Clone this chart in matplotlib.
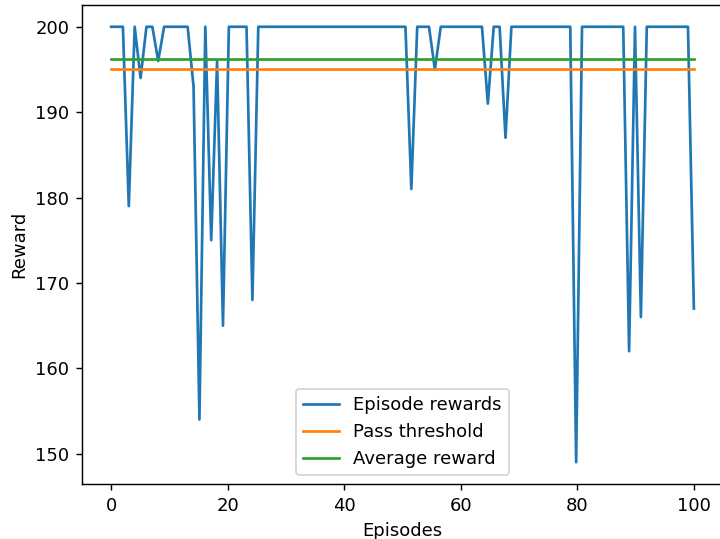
import numpy as np
import matplotlib
matplotlib.use("Agg")
import matplotlib.pyplot as plt

# rewards per episode
rewards = [200, 200, 200, 179, 200, 194, 200, 200, 196, 200,
           200, 200, 200, 200, 193, 154, 200, 175, 196, 165,
           200, 200, 200, 200, 168, 200, 200, 200, 200, 200,
           200, 200, 200, 200, 200, 200, 200, 200, 200, 200,
           200, 200, 200, 200, 200, 200, 200, 200, 200, 200,
           200, 181, 200, 200, 200, 195, 200, 200, 200, 200,
           200, 200, 200, 200, 191, 200, 200, 187, 200, 200,
           200, 200, 200, 200, 200, 200, 200, 200, 200, 149,
           200, 200, 200, 200, 200, 200, 200, 200, 162, 200,
           166, 200, 200, 200, 200, 200, 200, 200, 200, 167]
threshold = 195
episodes = np.linspace(0, 100, len(rewards))
avg = np.mean(rewards)

dpi = 129.5
fig = plt.figure(figsize=(720 / dpi, 539 / dpi), dpi=dpi)
ax = fig.add_axes([82 / 720, 55 / 539, 641 / 720, 479 / 539])

ax.plot(episodes, rewards, label='Episode rewards')
ax.plot(episodes, [threshold] * len(rewards), label='Pass threshold')
ax.plot(episodes, [avg] * len(rewards), label='Average reward')
ax.set_xlabel('Episodes')
ax.set_ylabel('Reward')
ax.legend(loc='lower center')

fig.savefig('out.png', dpi=dpi)
